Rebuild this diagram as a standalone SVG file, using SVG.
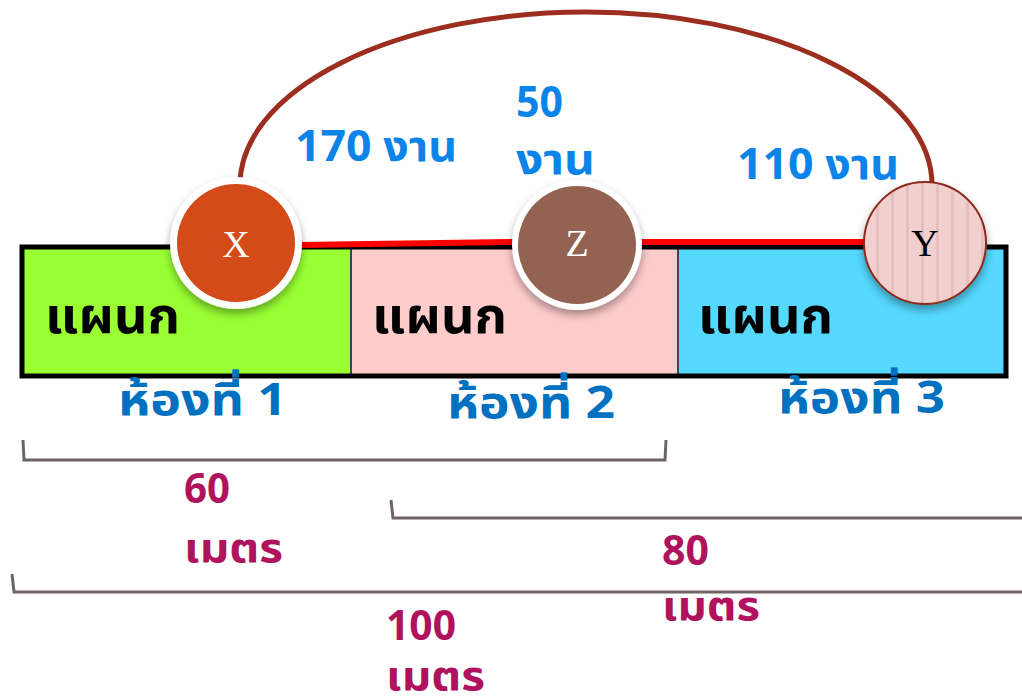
<svg xmlns="http://www.w3.org/2000/svg" width="1022" height="699" viewBox="0 0 1022 699">
  <style>
    .room { stroke: none; }
    .divider { stroke: #444; stroke-width: 2; }
    .label-dept { font-family: "Noto Sans Thai", "Noto Sans", "Liberation Sans", sans-serif; font-weight: bold; font-size: 50px; fill: #000; }
    .label-room { font-family: "Noto Sans Thai", "Noto Sans", "Liberation Sans", sans-serif; font-weight: bold; font-size: 44px; fill: #0070C0; }
    .label-work { font-family: "Noto Sans Thai", "Noto Sans", "Liberation Sans", sans-serif; font-weight: bold; font-size: 43px; fill: #0A84E8; }
    .label-dist { font-family: "Noto Sans Thai", "Noto Sans", "Liberation Sans", sans-serif; font-weight: bold; font-size: 41px; fill: #B0135E; }
    .node-letter { font-family: "Liberation Serif", serif; font-size: 38px; text-anchor: middle; }
    .bracket { fill: none; stroke: #6E6464; stroke-width: 3; }
    .link { stroke: #FF0000; stroke-width: 6; fill: none; }
    .loop { stroke: #9B2E1E; stroke-width: 5; fill: none; }
  </style>
  <defs>
    <filter id="shadow" x="-30%" y="-30%" width="160%" height="170%">
      <feDropShadow dx="0" dy="5" stdDeviation="4" flood-color="#000" flood-opacity="0.35"/>
    </filter>
    <pattern id="stripes" width="15" height="20" patternUnits="userSpaceOnUse">
      <rect width="15" height="20" fill="#F2CFCF"/>
      <rect x="6" width="3" height="20" fill="#E6BEBE"/>
    </pattern>
  </defs>

  <!-- building strip with three rooms -->
  <g id="rooms">
    <rect class="room" x="22" y="247" width="329" height="129" fill="#99FF33"/>
    <rect class="room" x="351" y="247" width="327" height="129" fill="#FFCCCC"/>
    <rect class="room" x="678" y="247" width="328" height="129" fill="#55D9FF"/>
    <line class="divider" x1="351" y1="247" x2="351" y2="376"/>
    <line class="divider" x1="678" y1="247" x2="678" y2="376"/>
    <rect x="22" y="247" width="984" height="129" fill="none" stroke="#000" stroke-width="5"/>
  </g>

  <g id="room1">
    <text class="label-dept" x="45" y="333" textLength="135" lengthAdjust="spacingAndGlyphs">แผนก</text>
    <text class="label-room" x="118" y="415" textLength="169" lengthAdjust="spacingAndGlyphs">ห้องที่ 1</text>
  </g>
  <g id="room2">
    <text class="label-dept" x="372" y="333" textLength="135" lengthAdjust="spacingAndGlyphs">แผนก</text>
    <text class="label-room" x="447" y="418" textLength="168" lengthAdjust="spacingAndGlyphs">ห้องที่ 2</text>
  </g>
  <g id="room3">
    <text class="label-dept" x="698" y="333" textLength="135" lengthAdjust="spacingAndGlyphs">แผนก</text>
    <text class="label-room" x="778" y="413" textLength="167" lengthAdjust="spacingAndGlyphs">ห้องที่ 3</text>
  </g>

  <!-- connectors between workstations -->
  <g id="connectors">
    <path class="loop" d="M240,185 A346,173 0 0 1 932,185"/>
    <line class="link" x1="298" y1="245" x2="515" y2="242"/>
    <line class="link" x1="640" y1="242" x2="866" y2="242"/>
  </g>

  <!-- flow quantities -->
  <g id="flows">
    <text class="label-work" x="295" y="161" textLength="162" lengthAdjust="spacingAndGlyphs">170 งาน</text>
    <text class="label-work" x="516" y="117" textLength="47" lengthAdjust="spacingAndGlyphs">50</text>
    <text class="label-work" x="516" y="174" textLength="79" lengthAdjust="spacingAndGlyphs">งาน</text>
    <text class="label-work" x="737" y="179" textLength="162" lengthAdjust="spacingAndGlyphs">110 งาน</text>
  </g>

  <g id="node-x">
    <circle cx="236" cy="243" r="66" fill="#FFFFFF" filter="url(#shadow)"/>
    <circle cx="236" cy="243" r="59" fill="#D34B18"/>
    <text class="node-letter" x="236" y="257" fill="#FFFFFF">X</text>
  </g>
  <g id="node-z">
    <circle cx="577" cy="245" r="65" fill="#FFFFFF" filter="url(#shadow)"/>
    <circle cx="577" cy="245" r="59" fill="#946251"/>
    <text class="node-letter" x="577" y="256" fill="#FFFFFF">Z</text>
  </g>
  <g id="node-y">
    <circle cx="925" cy="243" r="61" fill="url(#stripes)" stroke="#8B2A1A" stroke-width="2" filter="url(#shadow)"/>
    <text class="node-letter" x="925" y="256" fill="#000000">Y</text>
  </g>

  <!-- distance brackets -->
  <g id="dist-60">
    <path class="bracket" d="M23,440 L24,460 L665,460 L666,440"/>
    <text class="label-dist" x="184" y="503" textLength="46" lengthAdjust="spacingAndGlyphs">60</text>
    <text class="label-dist" x="184" y="562" textLength="99" lengthAdjust="spacingAndGlyphs">เมตร</text>
  </g>
  <g id="dist-80">
    <path class="bracket" d="M391,500 L393,518 L1022,518"/>
    <text class="label-dist" x="662" y="565" textLength="47" lengthAdjust="spacingAndGlyphs">80</text>
    <text class="label-dist" x="662" y="620" textLength="98" lengthAdjust="spacingAndGlyphs">เมตร</text>
  </g>
  <g id="dist-100">
    <path class="bracket" d="M12,574 L14,592 L1022,592"/>
    <text class="label-dist" x="386" y="640" textLength="70" lengthAdjust="spacingAndGlyphs">100</text>
    <text class="label-dist" x="386" y="690" textLength="99" lengthAdjust="spacingAndGlyphs">เมตร</text>
  </g>
</svg>
